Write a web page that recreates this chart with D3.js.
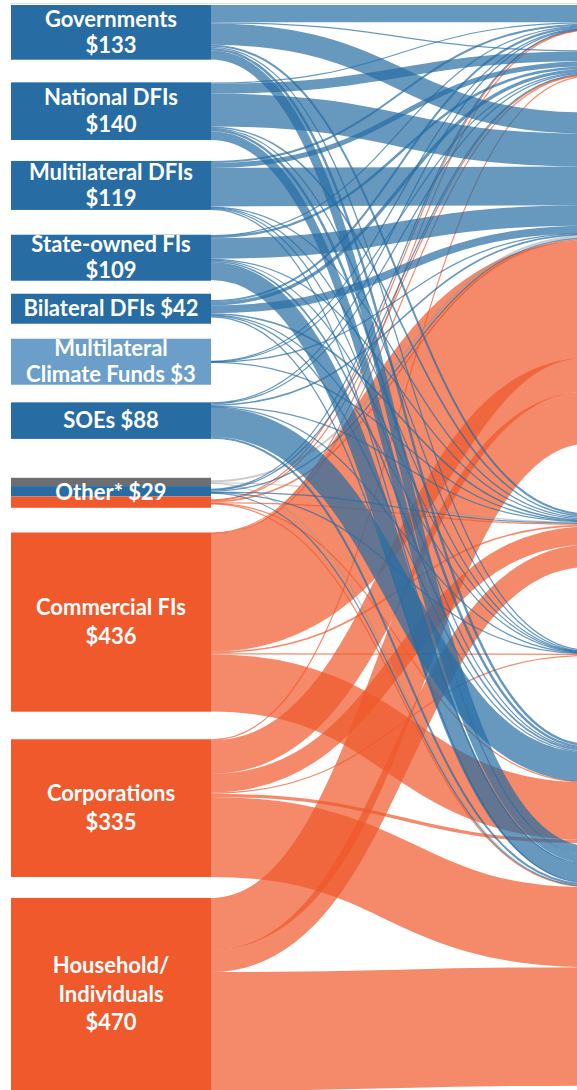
<!DOCTYPE html>
<html>
<head>
<meta charset="utf-8">
<script src="https://cdn.jsdelivr.net/npm/d3@7"></script>
<style>
    body { margin: 0; background: #fff; }
    svg { display: block; }
</style>
</head>
<body>
<div class="data_figure"></div>
<script>
// source boxes on the left
const sourceNames = ["Governments", "National DFIs", "Multilateral DFIs", "State-owned FIs", "Bilateral DFIs",
                     "Multilateral Climate Funds", "SOEs", "Other*", "Commercial FIs", "Corporations", "Household/Individuals"];
const sourceValues = [133, 140, 119, 109, 42, 3, 88, 29, 436, 335, 470];
const sourceSectors = ["public", "public", "public", "public", "public", "climate", "public", "unknown",
                       "private", "private", "private"];
const sourceLabels = [["Governments", "$133"], ["National DFIs", "$140"], ["Multilateral DFIs", "$119"],
                      ["State-owned FIs", "$109"], ["Bilateral DFIs $42"], ["Multilateral", "Climate Funds $3"],
                      ["SOEs $88"], ["Other* $29"], ["Commercial FIs", "$436"], ["Corporations", "$335"],
                      ["Household/", "Individuals", "$470"]];

// flow streams (Other* is split into unknown / public / private)
const streamNames = ["Governments", "National DFIs", "Multilateral DFIs", "State-owned FIs", "Bilateral DFIs",
                     "Multilateral Climate Funds", "SOEs", "Other* unknown", "Other* public", "Other* private",
                     "Commercial FIs", "Corporations", "Household/Individuals"];
const streamBox = [0, 1, 2, 3, 4, 5, 6, 7, 7, 7, 8, 9, 10];
const streamSector = ["public", "public", "public", "public", "public", "climate", "public",
                      "unknown", "public", "private", "private", "private", "private"];

// instruments (targets, just past the right edge) - one array per instrument, one value per stream
const instruments = ["Grants", "Low-cost project debt", "Project-level market rate debt", "Project-level equity",
                     "Unknown", "Balance sheet financing (debt)", "Balance sheet financing (equity)"];
const grants        = [42,  3,  5,  1,  5, 1.5,  1, 0, 1, 1,   1,   0,   0];
const lowCostDebt   = [ 3, 24, 12,  6,  8, 1,    3, 0, 2, 1,   2,   2,   0];
const marketDebt    = [52, 80, 94, 50, 19, 0.3,  4, 5, 3, 4, 287,  82, 127];
const projectEquity = [ 5,  4,  3,  3,  4, 0.2,  2, 2, 2, 2,   4,  45,  54];
const unknownInstr  = [ 3,  2,  1,  1,  1, 0,    1, 0, 1, 0,   2,   3,   0];
const bsDebt        = [ 6,  6,  2,  4,  3, 0,   72, 0, 0, 1, 140,   8,   0];
const bsEquity      = [22, 21,  2, 44,  2, 0,    5, 1, 1, 2,   0, 195, 289];
const flowCols = [grants, lowCostDebt, marketDebt, projectEquity, unknownInstr, bsDebt, bsEquity];

// layout
const widthMax = 577, heightMax = 1090;
const nodeX0 = 11, nodeX1 = 211, targetX = 590;
const sourceGaps = [5, 23, 21, 25, 13, 15, 18, 39, 25, 28, 21];
const targetGaps = [5, 20, 36, 70, 83, 88, 3];
const lineH = {public: 26.5, climate: 26.5, unknown: 26.5, private: 28.5};
const minBox = (n) => n === 1 ? 30 : 46;

const nodeColor = {public: "#276ca3", climate: "#6b9ec9", unknown: "#6d6e71", private: "#f0592b"};
const linkColor = {public: "#276ca3", climate: "#276ca3", unknown: "#9a9a9a", private: "#f0592b"};
const linkOpacity = {public: 0.7, climate: 0.7, unknown: 0.5, private: 0.7};

const wScale = d3.scaleLinear().domain([0, 1]).range([0, 0.41]);

// source boxes
let cy = 0;
const boxes = sourceNames.map((name, i) => {
    cy += sourceGaps[i];
    const h = Math.max(wScale(sourceValues[i]), minBox(sourceLabels[i].length));
    const b = {name: name, value: sourceValues[i], sector: sourceSectors[i], lines: sourceLabels[i], y0: cy, y1: cy + h};
    cy += h;
    return b;
});

// streams inside boxes
const streams = streamNames.map((name, s) => {
    const total = d3.sum(flowCols, (col) => col[s]);
    return {name: name, sector: streamSector[s], box: streamBox[s], value: total};
});
boxes.forEach((b, i) => {
    const members = streams.filter((st) => st.box === i);
    const boxTotal = d3.sum(members, (st) => st.value);
    let y = b.y0;
    members.forEach((st) => {
        const h = (b.y1 - b.y0) * st.value / boxTotal;
        st.y0 = y;
        st.y1 = y + h;
        y += h;
    });
});

// targets
let ty = 0;
const targets = instruments.map((name, j) => {
    ty += targetGaps[j];
    const h = wScale(d3.sum(flowCols[j]));
    const t = {name: name, y0: ty, y1: ty + h, cursor: ty};
    ty += h;
    return t;
});

// links
const links = [];
streams.forEach((st, s) => {
    const widths = flowCols.map((col) => wScale(col[s]));
    let y = st.y0 + ((st.y1 - st.y0) - d3.sum(widths)) / 2;
    flowCols.forEach((col, j) => {
        if (col[s] > 0) {
            links.push({source: s, target: j, sector: st.sector, width: widths[j], y0: y + widths[j] / 2});
        }
        y += widths[j];
    });
});
// target side: stacked in stream order
targets.forEach((t, j) => {
    links.filter((l) => l.target === j)
         .sort((a, b) => a.source - b.source)
         .forEach((l) => {
             l.y1 = t.cursor + l.width / 2;
             t.cursor += l.width;
         });
});

function linkPath(d) {
    const p = d3.path();
    const xm = (nodeX1 + targetX) / 2;
    p.moveTo(nodeX0, d.y0);
    p.lineTo(nodeX1, d.y0);
    p.bezierCurveTo(xm, d.y0, xm, d.y1, targetX, d.y1);
    return p.toString();
}

const svg = d3.select(".data_figure")
              .append("svg")
              .attr("width", widthMax)
              .attr("height", heightMax);

svg.append("line")
    .attr("x1", nodeX0).attr("x2", widthMax)
    .attr("y1", 3.5).attr("y2", 3.5)
    .attr("stroke", "#dbe2e8")
    .attr("stroke-width", 1);

const drawOrder = {private: 0, unknown: 1, climate: 2, public: 2};
svg.append("g")
    .attr("id", "links")
    .selectAll("path")
    .data(links.slice().sort((a, b) => drawOrder[a.sector] - drawOrder[b.sector]))
    .enter()
        .append("path")
        .attr("d", linkPath)
        .attr("fill", "none")
        .attr("stroke", (d) => linkColor[d.sector])
        .attr("stroke-opacity", (d) => linkOpacity[d.sector])
        .attr("stroke-width", (d) => Math.max(d.width, 1.2));

svg.append("g")
    .attr("id", "nodes")
    .selectAll("rect")
    .data(streams)
    .enter()
        .append("rect")
        .attr("x", nodeX0)
        .attr("width", nodeX1 - nodeX0)
        .attr("y", (d) => d.y0)
        .attr("height", (d) => d.y1 - d.y0)
        .attr("fill", (d) => nodeColor[d.sector]);

// one text per box, lines as tspans
const labels = svg.append("g")
    .attr("id", "labels")
    .attr("font-family", "Lato, 'Open Sans', sans-serif")
    .attr("font-weight", 700)
    .attr("font-size", "22px")
    .attr("fill", "#fff")
    .attr("text-anchor", "middle");

boxes.forEach((b) => {
    const mid = (b.y0 + b.y1) / 2;
    const lh = lineH[b.sector];
    const txt = labels.append("text");
    b.lines.forEach((line, i) => {
        txt.append("tspan")
            .attr("x", (nodeX0 + nodeX1) / 2)
            .attr("y", mid + (i - (b.lines.length - 1) / 2) * lh + 7.5)
            .text(line);
    });
});
</script>
</body>
</html>
